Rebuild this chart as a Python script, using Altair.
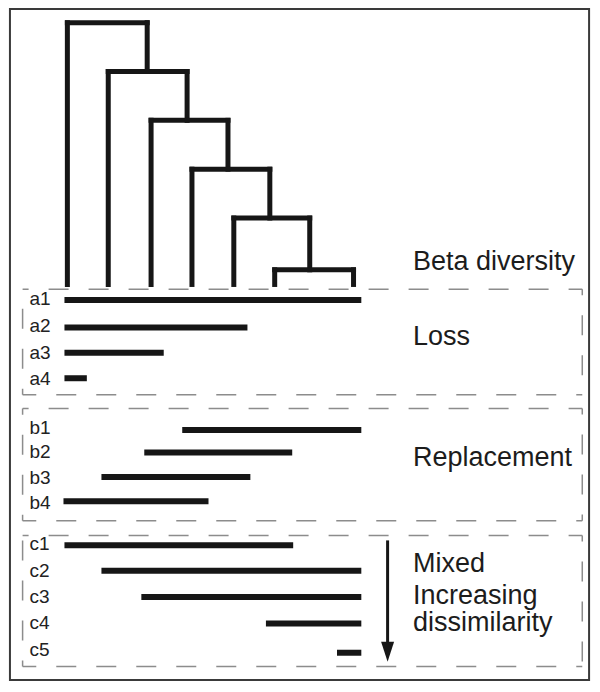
import altair as alt
import pandas as pd

# ---------------- data (reference pixel units) ----------------
leaf_x = [61, 103, 147, 189, 232, 274, 355]
merge_right = [143, 184, 226, 269, 310, 355]
merge_y = [15, 65, 115, 165, 215, 268]
leaf_bottom = 283

bar_labels = ["a1", "a2", "a3", "a4", "b1", "b2", "b3", "b4", "c1", "c2", "c3", "c4", "c5"]
bar_start = [58, 58, 58, 58, 179, 140, 96, 57, 58, 96, 137, 265, 338]
bar_end = [363, 246, 160, 81, 363, 292, 249, 206, 293, 363, 363, 363, 363]
bar_y = [299, 327, 353, 379, 432, 455, 480, 505, 550, 576, 603, 630, 660]
label_y = [304, 332, 359, 386, 436, 461, 487, 513, 555, 582, 609, 636, 663]
label_x = 22

titles = ["Beta diversity", "Loss", "Replacement", "Mixed", "Increasing", "dissimilarity"]
title_y = [268, 345, 469, 577, 610, 638]
title_x = 416

box_top = [288, 410, 540]
box_bottom = [396, 525, 674]
box_left = 15
box_right = 590

arrow_x = 390
arrow_top = 545
arrow_tip = 669

frame = dict(x1=2, x2=597, y1=1, y2=688)

# ---------------- build tables ----------------
segs = []
for i in range(len(merge_y)):
    right = merge_right[i]
    segs.append(dict(x1=leaf_x[i], y1=merge_y[i], x2=right, y2=merge_y[i]))
    segs.append(dict(x1=leaf_x[i], y1=merge_y[i], x2=leaf_x[i], y2=leaf_bottom))
    lower = merge_y[i + 1] if i + 1 < len(merge_y) else leaf_bottom
    segs.append(dict(x1=right, y1=merge_y[i], x2=right, y2=lower))
seg_df = pd.DataFrame(segs)

bar_df = pd.DataFrame(dict(label=bar_labels, start=bar_start, end=bar_end, y=bar_y, ly=label_y,
                           lx=[label_x] * len(bar_labels)))

title_df = pd.DataFrame(dict(text=titles, y=title_y, x=[title_x] * len(titles)))

sides = []
for t, b in zip(box_top, box_bottom):
    sides.append(dict(x1=box_left, y1=t, x2=box_right, y2=t))
    sides.append(dict(x1=box_right, y1=t, x2=box_right, y2=b))
    sides.append(dict(x1=box_right, y1=b, x2=box_left, y2=b))
    sides.append(dict(x1=box_left, y1=b, x2=box_left, y2=t))
side_df = pd.DataFrame(sides)

frame_df = pd.DataFrame([frame])
arrow_df = pd.DataFrame([dict(x=arrow_x, y1=arrow_top, y2=arrow_tip - 15, yh=arrow_tip - 10)])

X = alt.Scale(domain=[0, 600], nice=False, zero=False)
Y = alt.Scale(domain=[0, 692], nice=False, zero=False, reverse=True)


def xq(f):
    return alt.X(f, type="quantitative", scale=X, axis=None)


def yq(f):
    return alt.Y(f, type="quantitative", scale=Y, axis=None)


ink = "#161616"

dendro = alt.Chart(seg_df).mark_rule(strokeWidth=5, strokeCap="square", color=ink).encode(
    x=xq("x1"), y=yq("y1"), x2="x2:Q", y2="y2:Q")

bars = alt.Chart(bar_df).mark_rule(strokeWidth=6, strokeCap="butt", color=ink).encode(
    x=xq("start"), x2="end:Q", y=yq("y"))

labels = alt.Chart(bar_df).mark_text(align="left", baseline="alphabetic", fontSize=19,
                                     font="Liberation Sans", color="#222222").encode(
    x=xq("lx"), y=yq("ly"), text="label:N")

boxes = alt.Chart(side_df).mark_rule(strokeWidth=1.5, color="#8c8c8c", strokeDash=[20, 20],
                                     strokeDashOffset=14).encode(
    x=xq("x1"), y=yq("y1"), x2="x2:Q", y2="y2:Q")

frame_l = alt.Chart(frame_df).mark_rect(fillOpacity=0, stroke="#3a3a3a", strokeWidth=2).encode(
    x=xq("x1"), x2="x2:Q", y=yq("y1"), y2="y2:Q")

arrow_line = alt.Chart(arrow_df).mark_rule(strokeWidth=3, color=ink).encode(
    x=xq("x"), y=yq("y1"), y2="y2:Q")

arrow_head = alt.Chart(arrow_df).mark_point(shape="M-0.65,-1L0.65,-1L0,1Z", size=400, filled=True,
                                            color=ink, opacity=1).encode(
    x=xq("x"), y=yq("yh"))

texts = alt.Chart(title_df).mark_text(align="left", baseline="alphabetic", fontSize=27,
                                      font="Liberation Sans", color="#1c1c1c").encode(
    x=xq("x"), y=yq("y"), text="text:N")

chart = alt.layer(frame_l, boxes, dendro, bars, labels, arrow_line, arrow_head, texts).properties(
    width=584, height=676, padding=0, autosize="none", background="white"
).configure_view(stroke=None)

chart.save("out.html", embed_options={"renderer": "svg", "actions": False})
